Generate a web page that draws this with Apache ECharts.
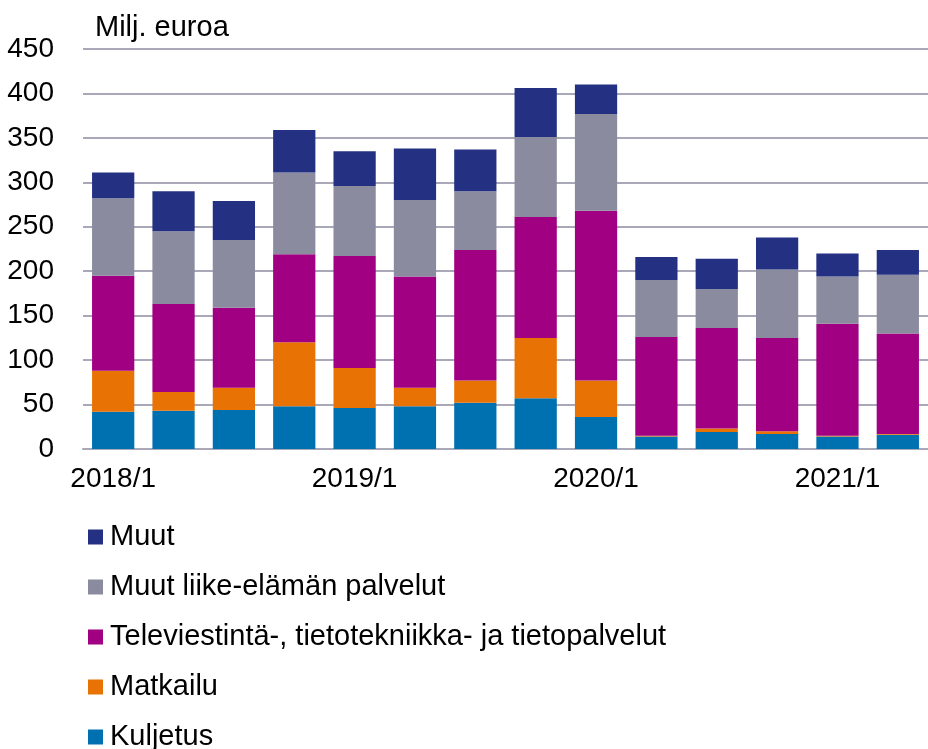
<!DOCTYPE html>
<html>
<head>
<meta charset="utf-8">
<script src="https://cdn.jsdelivr.net/npm/echarts@6/dist/echarts.min.js"></script>
<style>
  html, body { margin: 0; padding: 0; background: #fff; }
  #chart { width: 928px; height: 749px; }
</style>
</head>
<body>
<div id="chart"></div>
<script>
// neljännekset
var quarters = ["2018/1", "2018/2", "2018/3", "2018/4",
                "2019/1", "2019/2", "2019/3", "2019/4",
                "2020/1", "2020/2", "2020/3", "2020/4",
                "2021/1", "2021/2"];

// milj. euroa
var kuljetus = [42, 43, 44, 48, 46, 48, 52, 57, 36, 14, 19, 17, 14, 16];
var matkailu = [46, 21, 25, 72, 45, 21, 25, 68, 41, 1, 4, 3, 1, 1];
var televiestinta = [107, 99, 90, 99, 126, 125, 147, 136, 191, 111, 113, 105, 126, 113];
var muutLiike = [87, 82, 76, 92, 79, 86, 66, 90, 109, 64, 44, 77, 53, 66];
var muut = [29, 45, 44, 48, 39, 58, 47, 55, 33, 26, 34, 36, 26, 28];

var yTicks = [0, 50, 100, 150, 200, 250, 300, 350, 400, 450];

var font = "Liberation Sans, Arial, sans-serif";

function bar(name, data, color) {
  return {
    name: name,
    type: "bar",
    stack: "total",
    barWidth: "70%",
    data: data,
    itemStyle: { color: color }
  };
}

var chart = echarts.init(document.getElementById("chart"));
chart.setOption({
  animation: false,
  title: {
    text: "Milj. euroa",
    left: 90,
    top: 8,
    textStyle: { fontFamily: font, fontSize: 29, fontWeight: "normal", color: "#000" }
  },
  legend: {
    orient: "vertical",
    left: 88,
    top: 522,
    height: 260,
    padding: 0,
    icon: "rect",
    itemWidth: 15,
    itemHeight: 15,
    itemGap: 20,
    data: ["Muut", "Muut liike-elämän palvelut",
           "Televiestintä-, tietotekniikka- ja tietopalvelut",
           "Matkailu", "Kuljetus"],
    textStyle: { fontFamily: font, fontSize: 29, color: "#000", lineHeight: 30, padding: [0, 0, 0, 2] }
  },
  grid: {
    left: 83,
    right: -10,
    top: 49,
    bottom: 300
  },
  xAxis: {
    type: "category",
    data: quarters,
    axisTick: { show: false },
    axisLine: { lineStyle: { color: "#a8a8b8", width: 2 } },
    axisLabel: {
      interval: 3,
      margin: 16,
      fontFamily: font,
      fontSize: 28,
      color: "#000"
    }
  },
  yAxis: {
    type: "value",
    min: yTicks[0],
    max: yTicks[yTicks.length - 1],
    interval: 50,
    axisLine: { show: false },
    axisTick: { show: false },
    axisLabel: { margin: 29, fontFamily: font, fontSize: 28, color: "#000" },
    splitLine: { lineStyle: { color: "#a8a8b8", width: 2 } }
  },
  series: [
    bar("Kuljetus", kuljetus, "#0071b0"),
    bar("Matkailu", matkailu, "#e87304"),
    bar("Televiestintä-, tietotekniikka- ja tietopalvelut", televiestinta, "#a10082"),
    bar("Muut liike-elämän palvelut", muutLiike, "#8a8b9e"),
    bar("Muut", muut, "#243182")
  ]
});
</script>
</body>
</html>
